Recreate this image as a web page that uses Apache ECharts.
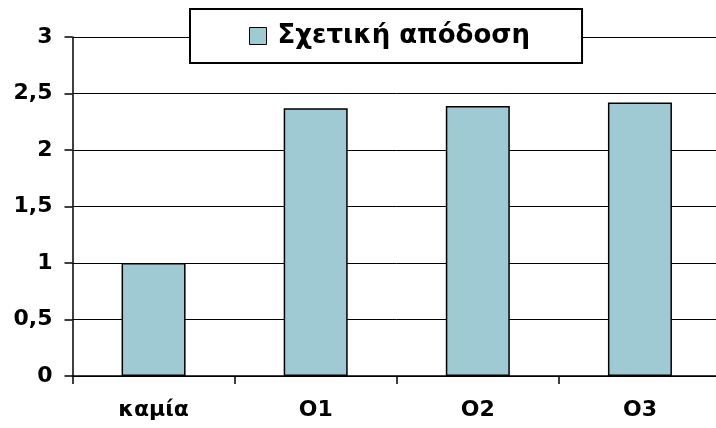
<!DOCTYPE html>
<html>
<head>
<meta charset="utf-8">
<script src="https://cdn.jsdelivr.net/npm/echarts@6/dist/echarts.min.js"></script>
<style>html,body{margin:0;padding:0;background:#fff;overflow:hidden}#c{width:721px;height:428px}</style>
</head>
<body>
<div id="c"></div>
<script>
const categories = ['καμία', 'O1', 'O2', 'O3'];
const seriesName = 'Σχετική απόδοση';
const values = [1.0, 2.37, 2.39, 2.42];
const yMin = 0, yMax = 3, yStep = 0.5;

const chart = echarts.init(document.getElementById('c'));
const font = 'Verdana, "DejaVu Sans", sans-serif';
chart.setOption({
  animation: false,
  backgroundColor: '#fff',
  grid: { left: 72.5, top: 37, right: 0, bottom: 52, containLabel: false },
  legend: {
    data: [seriesName],
    left: 190, top: 9,
    icon: 'rect', itemWidth: 17, itemHeight: 17, itemGap: 10,
    padding: [14, 52, 14, 59],
    backgroundColor: '#fff', borderColor: '#000', borderWidth: 2,
    itemStyle: { borderColor: '#000', borderWidth: 1 },
    textStyle: { fontFamily: font, fontWeight: 'bold', fontSize: 26, color: '#000', padding: [0,0,0,6] },
    z: 10
  },
  xAxis: {
    type: 'category', data: categories,
    axisLine: { lineStyle: { color: '#000', width: 1.5 } },
    axisTick: { show: true, length: 8, lineStyle: { color: '#000', width: 1.5 } },
    axisLabel: { fontFamily: font, fontWeight: 'bold', fontSize: 22, color: '#000', margin: 23 }
  },
  yAxis: {
    type: 'value', min: yMin, max: yMax, interval: yStep,
    axisLine: { show: true, lineStyle: { color: '#000', width: 1.5 } },
    axisTick: { show: true, length: 8, lineStyle: { color: '#000', width: 1.5 } },
    splitLine: { lineStyle: { color: '#000', width: 1 } },
    axisLabel: { fontFamily: font, fontWeight: 'bold', fontSize: 22, color: '#000', margin: 20,
      formatter: v => String(v).replace('.', ',') }
  },
  series: [{
    name: seriesName, type: 'bar', data: values, barWidth: 64,
    itemStyle: { color: '#a0cad3', borderColor: '#000', borderWidth: 1.5 }
  }]
});
</script>
</body>
</html>
